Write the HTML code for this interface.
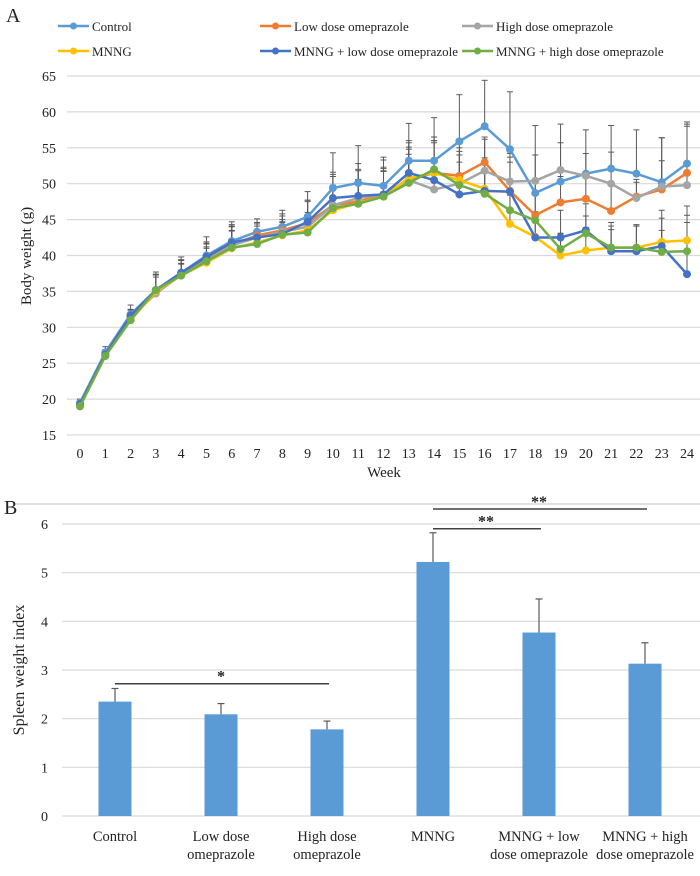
<!DOCTYPE html>
<html><head><meta charset="utf-8">
<style>
body{margin:0;background:#fff;}
svg text{font-family:"Liberation Serif",serif;fill:#222;}
</style></head>
<body>
<svg id="chart" width="700" height="871" viewBox="0 0 700 871" xmlns="http://www.w3.org/2000/svg">
<text x="6" y="22" font-size="20">A</text>
<g id="legendA"></g>
<g id="gridA"></g>
<g id="seriesA"></g>
<text x="0" y="0" font-size="15" text-anchor="middle" transform="translate(31,256) rotate(-90)">Body weight (g)</text>
<text x="384" y="477" font-size="15" text-anchor="middle">Week</text>
<line x1="15" y1="504" x2="700" y2="504" stroke="#d9d9d9" stroke-width="1.5"/>
<text x="4" y="514" font-size="20">B</text>
<g id="gridB"></g>
<g id="barsB"></g>
<text x="0" y="0" font-size="16" text-anchor="middle" transform="translate(24,670) rotate(-90)">Spleen weight index</text>
</svg>
<script>
const weeks=[0,1,2,3,4,5,6,7,8,9,10,11,12,13,14,15,16,17,18,19,20,21,22,23,24];
const seriesNames=["Control","Low dose omeprazole","High dose omeprazole","MNNG","MNNG + low dose omeprazole","MNNG + high dose omeprazole"];
const seriesColors=["#5b9bd5","#ed7d31","#a5a5a5","#ffc000","#4472c4","#70ad47"];
const control=[19.5,26.5,31.8,35.2,37.6,40,42,43.3,44,45.4,49.4,50.1,49.7,53.2,53.2,55.9,58,54.8,48.7,50.3,51.4,52.1,51.4,50.2,52.8];
const lowDose=[19.3,26.2,31.5,35,37.4,39.5,41.5,42.8,43.5,44.5,47,47.5,48.5,50.5,51.5,51.1,53,49,45.6,47.4,47.9,46.2,48.2,49.2,51.5];
const highDose=[19.2,26.1,31.4,34.7,37.3,39.3,41.4,42.5,43.3,44,47,48,48.5,50.5,49.2,50,51.8,50.3,50.4,51.9,51.1,50,48,49.6,49.8];
const mnng=[19,26,31,35,37.2,39,41,41.8,42.8,43.5,46.3,47.3,48.2,50.8,51.5,50.5,49.3,44.4,42.6,40,40.7,41.1,41.1,41.9,42.1];
const mnngLow=[19.3,26.2,31.6,35.2,37.6,39.8,41.8,42.5,43,44.7,48,48.3,48.5,51.5,50.5,48.5,49,48.9,42.5,42.5,43.5,40.6,40.6,41.3,37.4];
const mnngHigh=[19,26,31,35.2,37.2,39.2,41.1,41.6,42.9,43.2,46.6,47.2,48.2,50.1,52,49.8,48.6,46.3,44.9,40.9,43.1,41.1,41.1,40.5,40.6];
const errControl=[0.5,0.8,1.3,2.5,2.2,2.6,2.7,1.8,2.3,3.5,4.9,5.2,4,5.2,6,6.5,6.4,8,9.4,8,6.1,6,6.1,6.2,5.8];
const errLow=[0.4,0.7,1,2.3,2,2.2,2.5,1.6,2,3,4,4.5,3.8,4.6,5,4.8,3.5,4,5,3.6,3.2,3.6,2,4,6.8];
const errHigh=[0.4,0.6,1,2.6,2,2.3,2.7,2.1,2.5,3.7,4.6,4.8,4.8,5.5,6.5,5,4.4,3.9,3.6,3.8,3.1,4.4,2.6,6.8,8.2];
const errMnng=[0.3,0.5,0.8,2,1.6,2,2.5,1.5,1.8,2.5,3,3.2,3.5,4,4.5,4,3.8,4,3.5,3,3.2,3.5,3.2,3.3,3.5];
const errMnngLow=[0.4,0.5,0.8,2.2,1.8,2.1,2.5,1.6,2,3,3.3,3.5,3.6,4.2,5.5,4.5,4.6,4.8,2.8,3.8,3.7,3.5,3.5,5,9.5];
const errMnngHigh=[0.3,0.5,0.8,2.1,1.7,2,2.3,1.5,1.8,2.5,3.2,3.4,3.6,4,4.5,4.2,4,4.2,4,2.2,2.4,2.5,3,3,4];
const yTicksA=[15,20,25,30,35,40,45,50,55,60,65];
const allSeries=[control,lowDose,highDose,mnng,mnngLow,mnngHigh];
const allErr=[errControl,errLow,errHigh,errMnng,errMnngLow,errMnngHigh];

const barCategories=[["Control"],["Low dose","omeprazole"],["High dose","omeprazole"],["MNNG"],["MNNG + low","dose omeprazole"],["MNNG + high","dose omeprazole"]];
const barValues=[2.35,2.09,1.78,5.22,3.77,3.13];
const barErrors=[0.27,0.22,0.17,0.6,0.69,0.43];
const yTicksB=[0,1,2,3,4,5,6];
const sigPairs=[[0,2],[3,4],[3,5]];
const sigLabels=["*","**","**"];

const NS="http://www.w3.org/2000/svg";
function mk(tag,attrs,parent){const e=document.createElementNS(NS,tag);for(const k in attrs)e.setAttribute(k,attrs[k]);parent.appendChild(e);return e;}

// Chart A scales
const xA=w=>80+(w-0)*(607/24);
const yA=v=>435-(v-15)*(359/50);
const gridA=document.getElementById('gridA');
yTicksA.forEach(t=>{
  const l=mk('line',{x1:67,x2:700,y1:yA(t),y2:yA(t),stroke:'#d9d9d9','stroke-width':1.2},gridA);
  
  
  const tx=mk('text',{x:56,y:yA(t)+5,'font-size':14,'text-anchor':'end'},gridA);
  tx.textContent=t;
  
  
});
weeks.forEach(w=>{
  const tx=mk('text',{x:xA(w),y:458,'font-size':14,'text-anchor':'middle'},gridA);
  tx.textContent=w;
  
  
});
const sA=document.getElementById('seriesA');
// error bars
allSeries.forEach((s,i)=>{
  s.forEach((v,j)=>{
    const top=v+allErr[i][j];
    const l=mk('line',{x1:xA(weeks[j]),x2:xA(weeks[j]),y1:yA(v),y2:yA(top),stroke:'#595959','stroke-width':1},sA);
    
    
    const c=mk('line',{x1:xA(weeks[j])-3,x2:xA(weeks[j])+3,y1:yA(top),y2:yA(top),stroke:'#595959','stroke-width':1},sA);
    
    
  });
});
allSeries.forEach((s,i)=>{
  const g=mk('g',{},sA);
  
  
  const p=mk('polyline',{points:s.map((v,j)=>xA(weeks[j])+','+yA(v)).join(' '),fill:'none',stroke:seriesColors[i],'stroke-width':2.5},g);
  
  
  s.forEach((v,j)=>{
    const c=mk('circle',{cx:xA(weeks[j]),cy:yA(v),r:4,fill:seriesColors[i]},g);
    
    
  });
});
// legend
const legendPos=[[58,26],[260,26],[462,26],[58,51],[260,51],[462,51]];
const lg=document.getElementById('legendA');
seriesNames.forEach((n,i)=>{
  const [x,y]=legendPos[i];
  const g=mk('g',{},lg);
  
  
  mk('line',{x1:x,x2:x+31,y1:y,y2:y,stroke:seriesColors[i],'stroke-width':2.5},g);
  mk('circle',{cx:x+15.5,cy:y,r:3.5,fill:seriesColors[i]},g);
  const t=mk('text',{x:x+34,y:y+5,'font-size':13},g);
  t.textContent=n;
});

// Chart B
const xB=i=>115+i*106;
const yB=v=>816-v*(292/6);
const gridB=document.getElementById('gridB');
yTicksB.forEach(t=>{
  const l=mk('line',{x1:62,x2:700,y1:yB(t),y2:yB(t),stroke:'#d9d9d9','stroke-width':1.2},gridB);
  
  
  const tx=mk('text',{x:48,y:yB(t)+5,'font-size':14,'text-anchor':'end'},gridB);
  tx.textContent=t;
  
  
});
const bB=document.getElementById('barsB');
barValues.forEach((v,i)=>{
  const r=mk('rect',{x:xB(i)-16.5,y:yB(v),width:33,height:yB(0)-yB(v),fill:'#5b9bd5'},bB);
  
  
  const top=v+barErrors[i];
  const e=mk('line',{x1:xB(i),x2:xB(i),y1:yB(v),y2:yB(top),stroke:'#595959','stroke-width':1.2},bB);
  
  
  const c=mk('line',{x1:xB(i)-3.5,x2:xB(i)+3.5,y1:yB(top),y2:yB(top),stroke:'#595959','stroke-width':1.2},bB);
  
  
  barCategories[i].forEach((ln,k)=>{
    const t=mk('text',{x:xB(i),y:841+k*18,'font-size':14.5,'text-anchor':'middle'},bB);
    t.textContent=ln;
    
    
  });
});
const sigY=[683.7,528.7,509];
sigPairs.forEach((p,i)=>{
  const l=mk('line',{x1:xB(p[0]),x2:xB(p[1])+2,y1:sigY[i],y2:sigY[i],stroke:'#404040','stroke-width':1.5},bB);
  
  
  const t=mk('text',{x:(xB(p[0])+xB(p[1]))/2,y:sigY[i]-2,'font-size':16,'text-anchor':'middle','font-weight':'bold'},bB);
  t.textContent=sigLabels[i];
  
  
});
</script>
</body></html>
